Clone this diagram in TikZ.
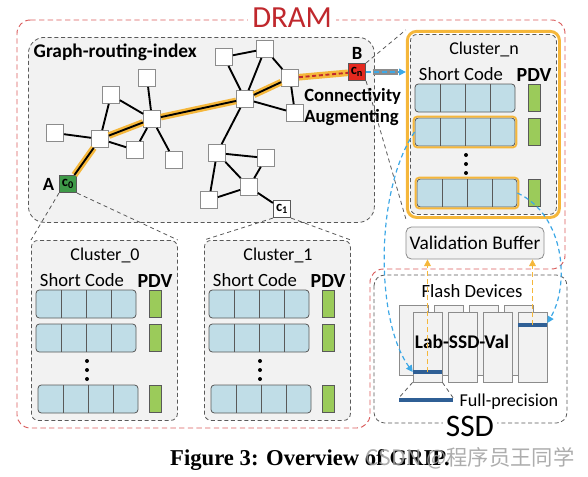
\documentclass[tikz,border=0pt]{standalone}
\usepackage{fontspec}
\setmainfont{Carlito}
\newfontfamily\capfont{Liberation Serif}
\newfontfamily\cjkfont{Noto Sans CJK SC}
\usetikzlibrary{arrows.meta,fit}
\definecolor{boxgray}{HTML}{F2F2F2}
\definecolor{edgegray}{HTML}{595959}
\definecolor{nodegray}{HTML}{8C8C8C}
\definecolor{gold}{HTML}{F5B73B}
\definecolor{dramred}{HTML}{C0282D}
\definecolor{dashred}{HTML}{D95C5C}
\definecolor{codeblue}{HTML}{C0DDE7}
\definecolor{pdvgreen}{HTML}{9BCB5A}
\definecolor{cgreen}{HTML}{3E9A48}
\definecolor{cred}{HTML}{E5291F}
\definecolor{flowblue}{HTML}{3DA8E6}
\definecolor{barblue}{HTML}{2F5F95}
\newcommand{\fsz}[1]{\fontsize{#1}{#1}\selectfont}

\begin{document}
\begin{tikzpicture}[x=0.75pt,y=-0.75pt,
  gnode/.style={draw=nodegray,fill=white,minimum size=12.75pt,inner sep=0pt,line width=0.6pt},
  cnode/.style={gnode,draw=edgegray,minimum size=13pt,font=\fsz{11}\bfseries},
  edge/.style={line width=1.4pt},
  hilite/.style={gold,line width=5pt},
  zoomline/.style={edgegray,dash pattern=on 3pt off 2.5pt,line width=0.6pt},
  clusterbox/.style={draw=edgegray,dash pattern=on 3pt off 2pt,fill=boxgray,rounded corners=5pt,
    minimum width=109.5pt,minimum height=135pt,anchor=north west,line width=0.6pt},
  coderow/.style={draw=edgegray,fill=codeblue,rounded corners=2.5pt,minimum width=75pt,
    minimum height=21pt,inner sep=0pt,line width=0.6pt},
  celldiv/.style={edgegray,line width=0.6pt},
  pdvbar/.style={draw=edgegray,fill=pdvgreen,minimum width=9pt,minimum height=20pt,inner sep=0pt,line width=0.5pt},
  lbl/.style={font=\fsz{13.5}},
  flashbox/.style={draw=nodegray,fill=boxgray,line width=0.6pt},
  blubar/.style={fill=barblue,inner sep=0pt,minimum height=2.6pt},
  flowarrow/.style={flowblue,dash pattern=on 3.5pt off 2.5pt,line width=0.9pt,-{Triangle[length=5pt,width=5pt]}},
  goldarrow/.style={gold,dash pattern=on 3.5pt off 2.5pt,line width=0.9pt,-{Triangle[length=5pt,width=5pt]}}]
  \useasboundingbox (0,0) rectangle (588,476);
  \draw[dashred,dash pattern=on 4pt off 2.5pt,line width=0.7pt,rounded corners=10pt]
    (17,20) -- (565,20) -- (565,269) -- (370,269) -- (370,428) -- (17,428) -- cycle;
  \node[font=\fsz{23},text=dramred,fill=white,inner sep=3pt] (dram) at (292,18) {DRAM};
  \node[draw=edgegray,dash pattern=on 3pt off 2pt,fill=boxgray,rounded corners=12pt,line width=0.6pt,
    minimum width=259.5pt,minimum height=138.75pt,anchor=north west] (gri) at (28,37) {};
  \node[font=\fsz{14.5}\bfseries,anchor=west] (gritxt) at (29,52) {Graph-routing-index};
  \foreach \cname/\cx/\cy in {0/31/240,1/204/240,n/410/34}{
    \begin{scope}[shift={(\cx,\cy)}]
      \node[clusterbox] (cl\cname) at (0,0) {};
      \node[lbl] (tt\cname) at (74,15) {Cluster\_\cname};
      \node[lbl,font=\fsz{14}] (sc\cname) at (51,40) {Short Code};
      \node[font=\fsz{15}\bfseries] (pl\cname) at (124,41) {PDV};
      \node[coderow] (ra\cname) at (55,64) {};
      \node[coderow] (rb\cname) at (55,98) {};
      \node[coderow] (rc\cname) at (57,159) {};
      \foreach \k in {1,2,3}{
        \draw[celldiv] (5+25*\k,50) -- (5+25*\k,78);
        \draw[celldiv] (5+25*\k,84) -- (5+25*\k,112);
        \draw[celldiv] (7+25*\k,145) -- (7+25*\k,173);}
      \foreach \r/\yy in {a/64,b/98,c/159}
        \node[pdvbar] (p\r\cname) at (124,\yy) {};
      \foreach \yy in {121,130,139}
        \fill (56,\yy) circle (1.5pt);
    \end{scope}}
  \foreach \r in {rbn,rcn}
    \node[coderow,fill=none,draw=gold,line width=1.4pt,minimum width=77pt,minimum height=23pt] at (\r) {};
  \node[draw=gold,line width=2.2pt,rounded corners=7pt,fit=(cln),inner sep=2pt] (clnframe) {};
  \foreach \n/\x/\y in {n1/55/133,n2/100/139,n3/111/95,n4/135/150,n5/147/78,n6/152/119,n7/174/160,
      n8/224/57,n9/265/49,n10/245/99,n11/290/78,n12/295/113,n13/217/153,n14/266/158,n15/249/187,n16/209/200}
    \node[gnode] (\n) at (\x,\y) {};
  \node[cnode,fill=cgreen] (c0) at (68,184) {c\textsubscript{0}};
  \node[cnode] (c1) at (282,209) {c\textsubscript{1}};
  \node[cnode,fill=cred] (cn) at (357,72) {c\textsubscript{n}};
  \node[font=\fsz{14}\bfseries,anchor=east] (alab) at (c0.west) {A};
  \node[font=\fsz{14}\bfseries,anchor=south,inner sep=1pt] (blab) at ([yshift=1.5pt]cn.north) {B};
  \node[font=\fontsize{14}{15.75}\selectfont\bfseries,anchor=west,align=left,inner sep=0pt] (conn) at (304,107.5)
    {Connectivity\\Augmenting};
  \draw[hilite] (c0) -- (n2) -- (n6) -- (n10) -- (n11) -- (cn);
  \draw[edge] (c0) -- (n2) -- (n6) -- (n10) -- (n11);
  \draw[dramred,dash pattern=on 3pt off 2pt,line width=1.4pt] (n11) -- (cn);
  \foreach \a/\b in {n1/n2,n2/n3,n2/n4,n3/n6,n5/n6,n6/n4,n6/n7,n10/n8,n10/n9,n8/n9,n9/n11,n10/n12,
      n11/n12,n10/n13,n13/n14,n13/n15,n13/n16,n14/n15,n16/n15,n15/c1}
    \draw[edge] (\a) -- (\b);
  \draw[zoomline] (c0.south west) -- (cl0.north west);
  \draw[zoomline] (c0.south east) -- (cl0.north east);
  \draw[zoomline] (c1.south west) -- (cl1.north west);
  \draw[zoomline] (c1.south east) -- (cl1.north east);
  \draw[zoomline] (cn.north east) -- (clnframe.north west);
  \draw[zoomline] (cn.south east) -- (clnframe.south west);
  \coordinate (gbend) at (clnframe.west |- cn.east);
  \draw[line width=4.5pt,nodegray] ([xshift=5pt]cn.east) -- ([xshift=-6pt]gbend);
  \draw[flowarrow] (cn.east) -- (gbend);
  \node[draw=nodegray,fill=boxgray,rounded corners=4pt,minimum width=103.5pt,minimum height=24pt,
    inner sep=1pt,font=\fsz{14.5},line width=0.6pt] (vb) at (475,243) {Validation Buffer};
  \draw[edgegray,dash pattern=on 3pt off 2pt,line width=0.6pt,rounded corners=8pt]
    (374,275) rectangle (567,423);
  \node[font=\fsz{23.5},fill=white,inner sep=2pt] (ssd) at (470,426) {SSD};
  \node[font=\fsz{14}] (fdev) at (472,291) {Flash Devices};
  \foreach \i in {0,...,3}
    \draw[flashbox] (399+35*\i,305) rectangle ++(29,70);
  \foreach \i in {1,...,4}
    \node[flashbox,minimum width=21.75pt,minimum height=52.5pt,inner sep=0pt] (fl\i) at (392.5+35*\i,347) {};
  \node[blubar,minimum width=21.75pt] (bar1) at (427.5,372) {};
  \node[blubar,minimum width=21.75pt] (bar4) at (532.5,325) {};
  \node[blubar,minimum width=40.5pt] (fpbar) at (426,400) {};
  \node[font=\fsz{14.5}\bfseries] (lsv) at (462,342) {Lab-SSD-Val};
  \node[font=\fsz{13.6},anchor=west,inner sep=1pt] (fptxt) at (458,402) {Full-precision};
  \draw[zoomline] (fl1.south west) -- (fpbar.north west);
  \draw[zoomline] (fl1.south east) -- (fpbar.north east);
  \draw[goldarrow] (bar1.center) -- (bar1 |- vb.south);
  \draw[goldarrow] (bar4.center) -- (bar4 |- vb.south);
  \draw[flowarrow] (rbn.west) .. controls (375,190) and (375,320) .. (bar1.west);
  \draw[flowarrow] (rcn.east) .. controls (565,215) and (570,285) .. (bar4.north east);
  \node[font=\capfont\fsz{17}\bfseries] (cap) at (310,460) {Figure 3: Overview of GRIP.};
  \node[font=\cjkfont\fsz{16},text=gray!75,opacity=0.85] (wm) at (470,458) {CSDN @程序员王同学};
\end{tikzpicture}
\end{document}
